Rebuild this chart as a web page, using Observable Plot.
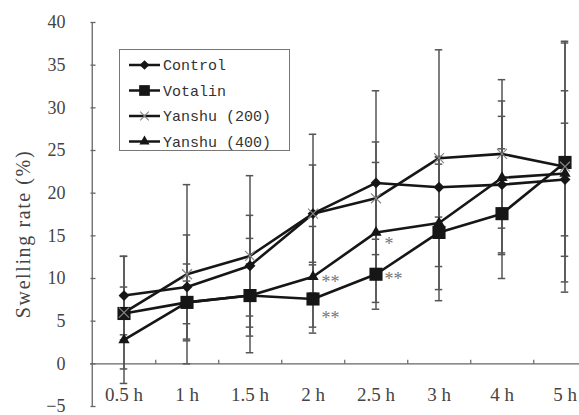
<!DOCTYPE html>
<html><head><meta charset="utf-8">
<script src="https://cdn.jsdelivr.net/npm/d3@7"></script>
<script src="https://cdn.jsdelivr.net/npm/@observablehq/plot@0.6"></script>
<style>
body{margin:0;background:#fff;}
#chart{position:relative;width:579px;height:415px;overflow:hidden;}
#legend{position:absolute;left:119px;top:49px;}
#ylabel{position:absolute;left:0;top:0;pointer-events:none;}
</style></head><body><div id="chart"></div>
<script>
// ---- data ----
const times = ["0.5 h","1 h","1.5 h","2 h","2.5 h","3 h","4 h","5 h"];
const seriesNames = ["Control","Votalin","Yanshu (200)","Yanshu (400)"];
const control      = [8.0, 9.0, 11.5, 17.6, 21.2, 20.7, 21.0, 21.6];
const controlErr   = [4.6, 6.1, 5.9, 9.3, 10.8, 3.5, 8.0, 6.6];
const votalin      = [5.9, 7.2, 8.0, 7.6, 10.5, 15.4, 17.6, 23.6];
const votalinErr   = [3.1, 4.5, 6.7, 4.0, 4.1, 8.0, 7.6, 14.0];
const yanshu200    = [6.0, 10.5, 12.65, 17.6, 19.4, 24.1, 24.6, 23.1];
const yanshu200Err = [6.6, 10.5, 9.4, 5.7, 6.6, 12.7, 8.7, 14.7];
const yanshu400    = [2.8, 7.2, 8.0, 10.2, 15.4, 16.5, 21.8, 22.3];
const yanshu400Err = [5.1, 2.5, 3.7, 5.9, 8.2, 7.8, 9.0, 9.7];
const yTicks = [-5, 0, 5, 10, 15, 20, 25, 30, 35, 40];
const yLabel = "Swelling rate (%)";
const sigMarks = [
  {time: "2 h",   series: "Yanshu (400)", label: "**", place: "right"},
  {time: "2 h",   series: "Votalin",      label: "**", place: "below"},
  {time: "2.5 h", series: "Yanshu (400)", label: "*",  place: "low"},
  {time: "2.5 h", series: "Votalin",      label: "**", place: "right"}
];

// ---- build table ----
const valuesBySeries = {
  "Control": [control, controlErr],
  "Votalin": [votalin, votalinErr],
  "Yanshu (200)": [yanshu200, yanshu200Err],
  "Yanshu (400)": [yanshu400, yanshu400Err]
};
const rows = seriesNames.flatMap(s => times.map((t, i) => ({
  series: s, time: t, value: valuesBySeries[s][0][i], err: valuesBySeries[s][1][i]
})));
const valueOf = (s, t) => valuesBySeries[s][0][times.indexOf(t)];

const symbolOf = {"Control": "diamond2", "Votalin": "square", "Yanshu (200)": "times", "Yanshu (400)": "triangle"};
const rOf = {"Control": 4.9, "Votalin": 7.4, "Yanshu (200)": 4.6, "Yanshu (400)": 4.2};

const W = 579, H = 415;
const xRange = [90, 598];
const bw = (xRange[1] - xRange[0]) / times.length;
const axisColor = "#666";
const tickRight = {draw(ctx) { ctx.moveTo(0, 0); ctx.lineTo(5, 0); }};
const tickUp = {draw(ctx) { ctx.moveTo(0, 0); ctx.lineTo(0, -4); }};
const placeDy = {right: 5, low: 12, below: 19};

const marks = [
  Plot.ruleX([times[0]], {x: d => d, y1: yTicks[0], y2: yTicks[yTicks.length - 1], dx: -bw / 2, stroke: axisColor, strokeWidth: 1.3}),
  Plot.ruleY([0], {stroke: axisColor, strokeWidth: 1.3}),
  Plot.dot(yTicks, {y: d => d, frameAnchor: "left", symbol: tickRight, stroke: axisColor, fill: "none", strokeWidth: 1.3}),
  Plot.dot(times.slice(0, -1), {x: d => d, y: () => 0, dx: bw / 2, symbol: tickUp, stroke: axisColor, fill: "none", strokeWidth: 1.2}),
  Plot.axisY({ticks: yTicks, tickSize: 0, tickPadding: 25, label: null, fill: "#444", fontSize: 18}),
  Plot.axisX({tickSize: 0, tickPadding: -19, label: null, fill: "#444"}),
  // error bars
  Plot.ruleX(rows, {x: "time", y1: d => d.value - d.err, y2: d => d.value + d.err, stroke: "#555", strokeWidth: 1.5}),
  Plot.tickY(rows, {x: "time", y: d => d.value + d.err, stroke: "#555", strokeWidth: 1.5, insetLeft: bw / 2 - 4, insetRight: bw / 2 - 4}),
  Plot.tickY(rows, {x: "time", y: d => d.value - d.err, stroke: "#555", strokeWidth: 1.5, insetLeft: bw / 2 - 4, insetRight: bw / 2 - 4}),
  // lines
  Plot.line(rows, {x: "time", y: "value", z: "series", stroke: "#161616", strokeWidth: 2.6})
];
for (const s of seriesNames) {
  const isX = s === "Yanshu (200)";
  marks.push(Plot.dot(rows.filter(d => d.series === s), {
    x: "time", y: "value", symbol: symbolOf[s], r: rOf[s],
    fill: isX ? "none" : "#161616", stroke: isX ? "#888" : "none", strokeWidth: 1.2
  }));
}
for (const p of Object.keys(placeDy)) {
  marks.push(Plot.text(sigMarks.filter(d => d.place === p), {
    x: "time", y: d => valueOf(d.series, d.time), text: "label",
    textAnchor: "start", dx: 8.5, dy: placeDy[p], fill: "#777", fontSize: 18
  }));
}

const chart = Plot.plot({
  width: W, height: H,
  marginTop: 22, marginBottom: 9, marginLeft: 90, marginRight: 0,
  x: {type: "band", domain: times, range: xRange, padding: 0},
  y: {domain: [yTicks[0], yTicks[yTicks.length - 1]]},
  style: {fontFamily: "'Liberation Serif', 'Times New Roman', serif", fontSize: "19px", color: "#444", background: "white", overflow: "visible"},
  marks
});
const container = document.getElementById("chart");
container.appendChild(chart);

// ---- y-axis title ----
const yl = d3.create("svg").attr("id", "ylabel").attr("width", 60).attr("height", H);
yl.append("text").attr("transform", "translate(23,234) rotate(-90)")
  .attr("text-anchor", "middle").attr("dy", "0.35em")
  .attr("font-family", "'Liberation Serif', 'Times New Roman', serif").attr("font-size", 20)
  .attr("letter-spacing", "1.6px").attr("fill", "#444").text(yLabel);
container.appendChild(yl.node());

// ---- legend ----
const lg = d3.create("svg").attr("id", "legend").attr("width", 171).attr("height", 102);
lg.append("rect").attr("x", 0.5).attr("y", 0.5).attr("width", 170).attr("height", 101)
  .attr("fill", "white").attr("stroke", "#777").attr("stroke-width", 1);
const d3Sym = {"Control": [d3.symbolDiamond2, 60], "Votalin": [d3.symbolSquare, 115], "Yanshu (200)": [d3.symbolTimes, 50], "Yanshu (400)": [d3.symbolTriangle, 45]};
seriesNames.forEach((s, i) => {
  const y = 16 + i * 25.5;
  const g = lg.append("g").attr("transform", `translate(0,${y})`);
  g.append("line").attr("x1", 10).attr("x2", 41).attr("y1", 0).attr("y2", 0).attr("stroke", "#161616").attr("stroke-width", 2.5);
  const isX = s === "Yanshu (200)";
  g.append("path").attr("transform", "translate(25.5,0)")
    .attr("d", d3.symbol(d3Sym[s][0], d3Sym[s][1])())
    .attr("fill", isX ? "none" : "#161616").attr("stroke", isX ? "#888" : "none").attr("stroke-width", 1.2);
  g.append("text").attr("x", 44).attr("y", 0).attr("dy", "0.35em")
    .attr("font-family", "'Liberation Mono', 'DejaVu Sans Mono', monospace").attr("font-size", 15)
    .attr("fill", "#333").text(s);
});
container.appendChild(lg.node());
</script></body></html>
